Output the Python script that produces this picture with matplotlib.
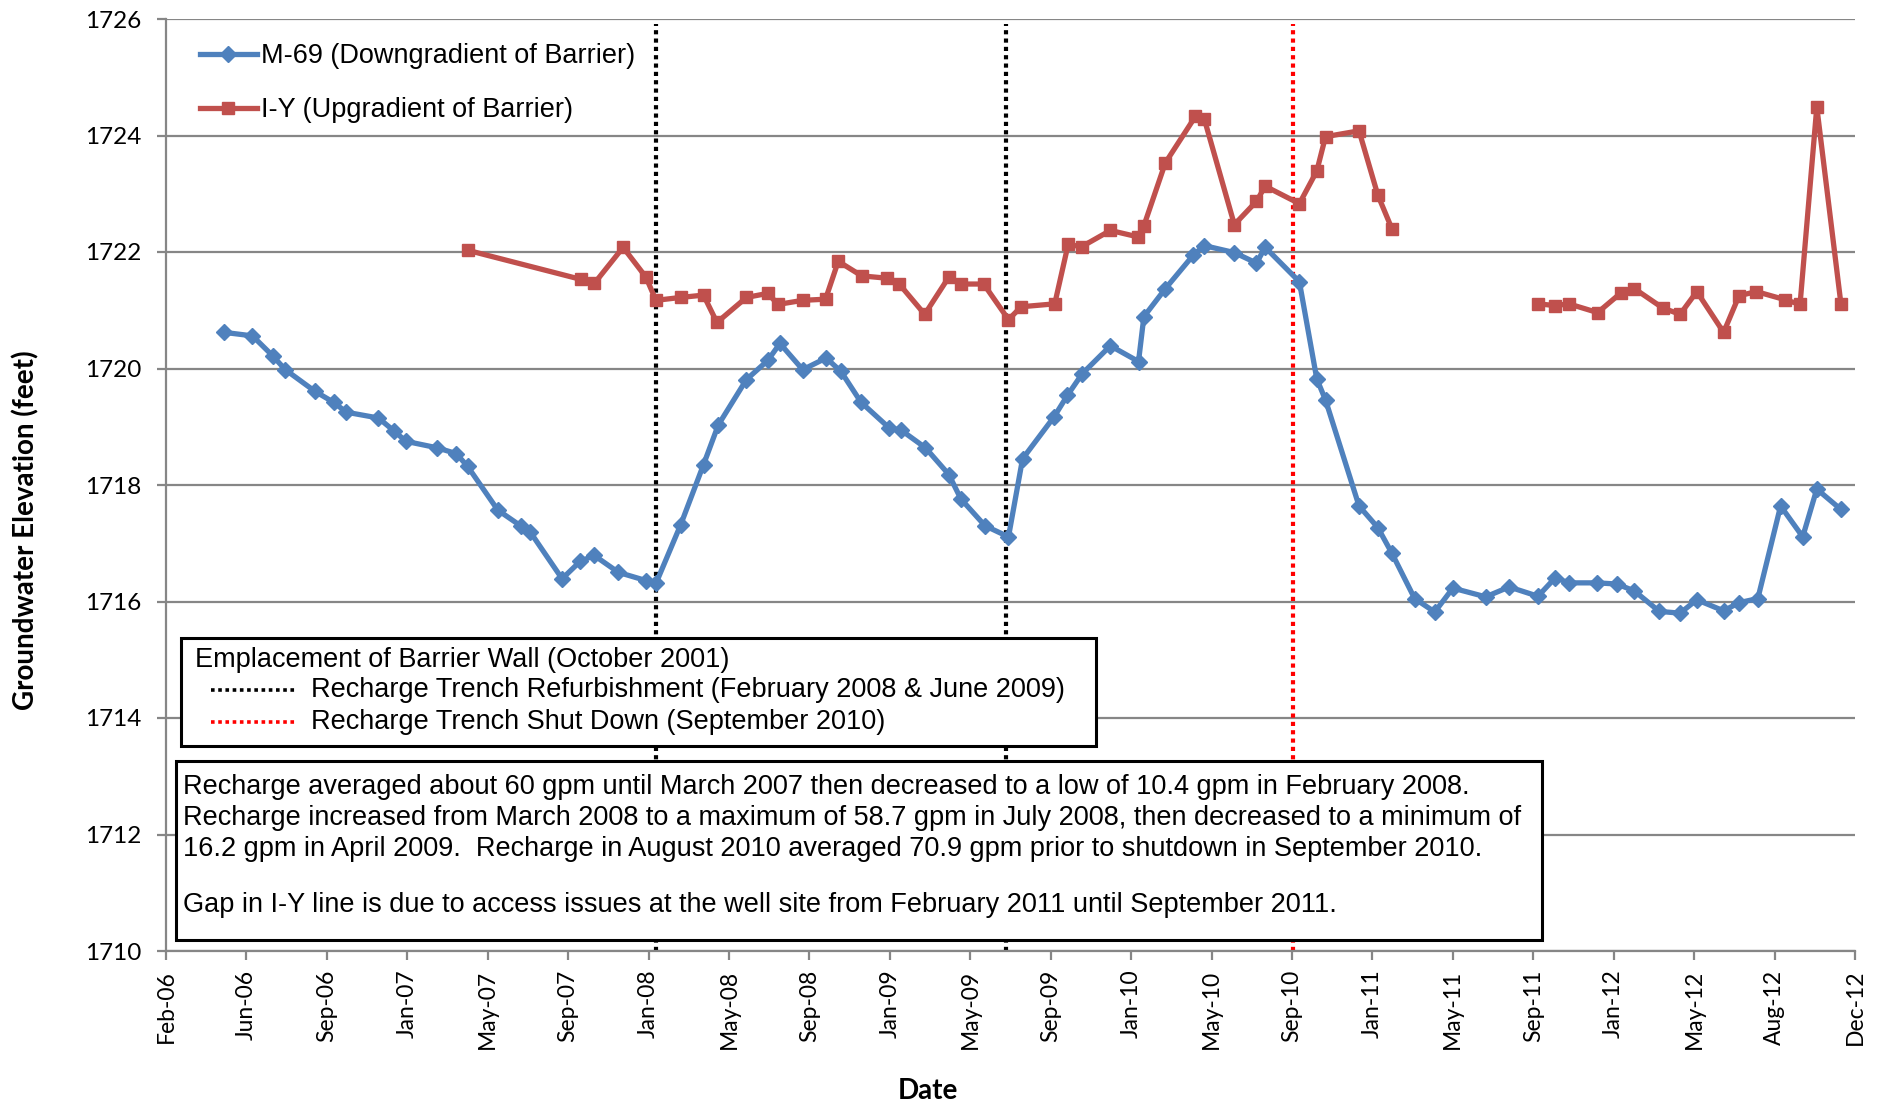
import numpy as np
import matplotlib.pyplot as plt
import matplotlib.dates as mdates
from matplotlib.lines import Line2D
from matplotlib.patches import Rectangle
import datetime as dt

# M-69 (downgradient) readings
m69_dates = ["2006-04-30", "2006-06-11", "2006-07-11", "2006-07-30", "2006-09-12", "2006-10-10",
             "2006-10-29", "2006-12-16", "2007-01-08", "2007-01-26", "2007-03-13", "2007-04-11",
             "2007-04-28", "2007-06-12", "2007-07-16", "2007-07-30", "2007-09-16", "2007-10-13",
             "2007-11-03", "2007-12-09", "2008-01-19", "2008-02-03", "2008-03-11", "2008-04-14",
             "2008-05-06", "2008-06-17", "2008-07-19", "2008-08-06", "2008-09-09", "2008-10-14",
             "2008-11-05", "2008-12-05", "2009-01-16", "2009-02-03", "2009-03-11", "2009-04-15",
             "2009-05-03", "2009-06-08", "2009-07-13", "2009-08-03", "2009-09-19", "2009-10-09",
             "2009-10-31", "2009-12-12", "2010-01-23", "2010-01-31", "2010-03-04", "2010-04-15",
             "2010-05-01", "2010-06-15", "2010-07-18", "2010-07-31", "2010-09-20", "2010-10-16",
             "2010-10-29", "2010-12-18", "2011-01-15", "2011-02-05", "2011-03-11", "2011-04-10",
             "2011-05-07", "2011-06-25", "2011-07-30", "2011-09-11", "2011-10-07", "2011-10-27",
             "2011-12-08", "2012-01-07", "2012-02-02", "2012-03-10", "2012-04-10", "2012-05-05",
             "2012-06-14", "2012-07-07", "2012-08-04", "2012-09-07", "2012-10-10", "2012-10-31",
             "2012-12-06"]
m69_elev = [1720.62, 1720.56, 1720.22, 1719.98, 1719.61, 1719.42,
            1719.25, 1719.15, 1718.93, 1718.75, 1718.64, 1718.54,
            1718.32, 1717.57, 1717.30, 1717.20, 1716.39, 1716.69,
            1716.79, 1716.50, 1716.36, 1716.31, 1717.32, 1718.35,
            1719.03, 1719.81, 1720.14, 1720.43, 1719.98, 1720.18,
            1719.95, 1719.42, 1718.98, 1718.94, 1718.64, 1718.18,
            1717.76, 1717.30, 1717.11, 1718.45, 1719.17, 1719.54,
            1719.91, 1720.39, 1720.12, 1720.89, 1721.37, 1721.95,
            1722.11, 1721.99, 1721.81, 1722.08, 1721.49, 1719.82,
            1719.46, 1717.64, 1717.27, 1716.83, 1716.05, 1715.82,
            1716.23, 1716.08, 1716.25, 1716.09, 1716.41, 1716.32,
            1716.32, 1716.30, 1716.18, 1715.83, 1715.80, 1716.03,
            1715.84, 1715.98, 1716.05, 1717.64, 1717.11, 1717.93,
            1717.58]

# I-Y (upgradient) readings, NaN marks the access gap
iy_dates = ["2007-04-28", "2007-10-14", "2007-11-03", "2007-12-16", "2008-01-19", "2008-02-03",
            "2008-03-11", "2008-04-14", "2008-05-04", "2008-06-17", "2008-07-19", "2008-08-03",
            "2008-09-09", "2008-10-13", "2008-11-01", "2008-12-06", "2009-01-13", "2009-01-31",
            "2009-03-10", "2009-04-15", "2009-05-03", "2009-06-06", "2009-07-13", "2009-08-01",
            "2009-09-20", "2009-10-10", "2009-10-30", "2009-12-12", "2010-01-22", "2010-01-31",
            "2010-03-04", "2010-04-18", "2010-05-01", "2010-06-15", "2010-07-18", "2010-07-31",
            "2010-09-20", "2010-10-16", "2010-10-29", "2010-12-18", "2011-01-15", "2011-02-05",
            "2011-06-01",
            "2011-09-11", "2011-10-07", "2011-10-27", "2011-12-09", "2012-01-13", "2012-02-02",
            "2012-03-15", "2012-04-10", "2012-05-05", "2012-06-14", "2012-07-07", "2012-08-02",
            "2012-09-14", "2012-10-06", "2012-10-31", "2012-12-06"]
iy_elev = [1722.03, 1721.53, 1721.46, 1722.08, 1721.57, 1721.17,
           1721.22, 1721.26, 1720.79, 1721.22, 1721.29, 1721.10,
           1721.17, 1721.19, 1721.84, 1721.59, 1721.55, 1721.45,
           1720.93, 1721.57, 1721.45, 1721.45, 1720.84, 1721.06,
           1721.11, 1722.13, 1722.09, 1722.37, 1722.26, 1722.45,
           1723.53, 1724.33, 1724.29, 1722.47, 1722.87, 1723.13,
           1722.83, 1723.39, 1723.98, 1724.08, 1722.98, 1722.40,
           np.nan,
           1721.11, 1721.08, 1721.11, 1720.96, 1721.30, 1721.37,
           1721.04, 1720.93, 1721.32, 1720.62, 1721.25, 1721.32,
           1721.18, 1721.10, 1724.49, 1721.11]

refurb_dates = ["2008-02-03", "2009-07-10"]
shutdown_date = "2010-09-10"

axis_start = dt.date(2006, 2, 2)
tick_step_days = 120
n_ticks = 22
y_ticks = list(range(1710, 1727, 2))

series_labels = ["M-69 (Downgradient of Barrier)", "I-Y (Upgradient of Barrier)"]
box1_lines = ["Emplacement of Barrier Wall (October 2001)",
              "Recharge Trench Refurbishment (February 2008 & June 2009)",
              "Recharge Trench Shut Down (September 2010)"]
note_lines = ["Recharge averaged about 60 gpm until March 2007 then decreased to a low of 10.4 gpm in February 2008.",
              "Recharge increased from March 2008 to a maximum of 58.7 gpm in July 2008, then decreased to a minimum of",
              "16.2 gpm in April 2009.  Recharge in August 2010 averaged 70.9 gpm prior to shutdown in September 2010."]
note_gap = "Gap in I-Y line is due to access issues at the well site from February 2011 until September 2011."

BLUE = "#4F81BD"
RED = "#C0504D"
GRID = "#868686"
W, H = 1888, 1104
TXT = "Liberation Sans"
LBL = "Lato"
FS = 19.5

fig = plt.figure(figsize=(W / 100, H / 100), dpi=100)
ax = fig.add_axes([166 / W, 1 - 951 / H, 1689 / W, 932 / H])

def to_dates(lst):
    return np.array(lst, dtype="datetime64[D]")

ax.plot(to_dates(m69_dates), m69_elev, color=BLUE, lw=3.8, marker="D", ms=8,
        label=series_labels[0], zorder=4)
ax.plot(to_dates(iy_dates), iy_elev, color=RED, lw=3.8, marker="s", ms=9,
        label=series_labels[1], zorder=3)

for d in refurb_dates:
    ax.axvline(np.datetime64(d), color="black", lw=3, ls=(0, (1, 1)), ymax=0.995, zorder=2.5)
ax.axvline(np.datetime64(shutdown_date), color="red", lw=3, ls=(0, (1, 1)), ymax=0.995, zorder=2.5)

ticks = [axis_start + dt.timedelta(days=tick_step_days * k) for k in range(n_ticks)]
ax.set_xlim(ticks[0], ticks[-1])
ax.set_xticks(ticks)
ax.xaxis.set_major_formatter(mdates.DateFormatter("%b-%y"))
ax.set_ylim(1710, 1726)
ax.set_yticks(y_ticks)
ax.yaxis.grid(True, color=GRID, lw=1.6)
ax.set_axisbelow(True)

for s in ["top", "right"]:
    ax.spines[s].set_visible(False)
for s in ["left", "bottom"]:
    ax.spines[s].set_color(GRID)
    ax.spines[s].set_linewidth(1.6)
ax.tick_params(axis="x", direction="out", length=6.5, width=1.6, color=GRID, rotation=90,
               labelsize=16.5, pad=7)
ax.tick_params(axis="y", direction="out", length=6.5, width=1.6, color=GRID, labelsize=17.5, pad=11)
for lab in ax.get_xticklabels() + ax.get_yticklabels():
    lab.set_fontfamily(LBL)

ax.set_ylabel("Groundwater Elevation (feet)", fontfamily=LBL, fontweight="bold", fontsize=20,
              va="center")
ax.yaxis.set_label_coords(-0.0829, 0.452)
ax.set_xlabel("Date", fontfamily=LBL, fontweight="bold", fontsize=20, va="center")
ax.xaxis.set_label_coords(0.451, -0.150)

leg = ax.legend(loc="upper left", bbox_to_anchor=(0.020, 0.974), frameon=False,
                prop={"family": TXT, "size": FS}, handlelength=2.1, handletextpad=0.15,
                labelspacing=1.04, borderaxespad=0, borderpad=0, numpoints=1)

def fp(x, y):
    return x / W, 1 - y / H

# key box for the vertical lines
x0, y0 = fp(181, 746)
x1, y1 = fp(1096, 638)
ax.add_patch(Rectangle((x0, y0), x1 - x0, y1 - y0, transform=fig.transFigure, facecolor="white",
                       edgecolor="black", lw=2.2, zorder=6, clip_on=False))
ax.text(*fp(195, 660), box1_lines[0], transform=fig.transFigure, fontsize=FS,
        fontfamily=TXT, va="center", ha="left", zorder=7)
for i, (c, yy) in enumerate([("black", 690), ("red", 722)]):
    xa, ya = fp(211, yy)
    xb, _ = fp(297, yy)
    ax.add_line(Line2D([xa, xb], [ya, ya], transform=fig.transFigure, color=c, lw=2.6,
                       ls=(0, (1, 1)), zorder=7, clip_on=False))
    ax.text(*fp(311, yy), box1_lines[i + 1], transform=fig.transFigure, fontsize=FS,
            fontfamily=TXT, va="center", ha="left", zorder=7)

# recharge notes box
x0, y0 = fp(176, 940)
x1, y1 = fp(1542, 761)
ax.add_patch(Rectangle((x0, y0), x1 - x0, y1 - y0, transform=fig.transFigure, facecolor="white",
                       edgecolor="black", lw=2.2, zorder=6, clip_on=False))
for line, yy in zip(note_lines, [787, 818, 849]):
    ax.text(*fp(183, yy), line, transform=fig.transFigure, fontsize=FS, fontfamily=TXT,
            va="center", ha="left", zorder=7)
ax.text(*fp(183, 905), note_gap, transform=fig.transFigure, fontsize=FS, fontfamily=TXT,
        va="center", ha="left", zorder=7)

fig.savefig("out.png", dpi=100)
